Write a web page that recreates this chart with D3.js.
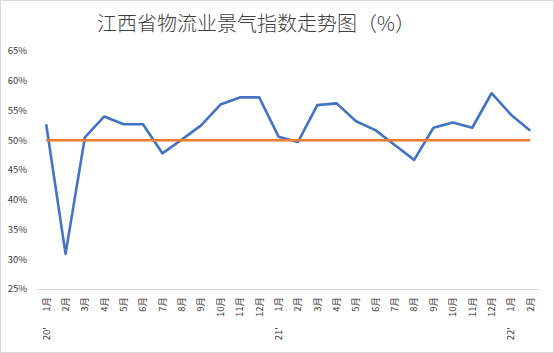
<!DOCTYPE html>
<html>
<head>
<meta charset="utf-8">
<script src="https://cdn.jsdelivr.net/npm/d3@7"></script>
<style>
  body { margin: 0; background: #fff; }
  svg { display: block; }
</style>
</head>
<body>
<div id="chart"></div>
<script>
// data
const months = ["1月","2月","3月","4月","5月","6月","7月","8月","9月","10月","11月","12月",
                "1月","2月","3月","4月","5月","6月","7月","8月","9月","10月","11月","12月",
                "1月","2月"];
const years = [{ idx: 0, label: "20'" }, { idx: 12, label: "21'" }, { idx: 24, label: "22'" }];
const index = [52.7, 30.9, 50.5, 54.0, 52.7, 52.7, 47.8, 50.1, 52.5, 56.0, 57.2, 57.2,
               50.6, 49.7, 55.9, 56.2, 53.2, 51.7, 49.2, 46.7, 52.1, 53.0, 52.1, 57.9,
               54.3, 51.6];
const baseline = months.map(() => 50);
const yTicks = [25, 30, 35, 40, 45, 50, 55, 60, 65];

function init() {
    const width = 554, height = 353;
    const font = "'Noto Sans CJK SC', 'DejaVu Sans', sans-serif";

    const svg = d3.select("#chart")
                  .append("svg")
                  .attr("width", width)
                  .attr("height", height);

    // outer frame
    svg.append("rect")
       .attr("x", 0.5).attr("y", 0.5)
       .attr("width", width - 1).attr("height", height - 1)
       .attr("fill", "#fff")
       .attr("stroke", "#d9d9d9");

    svg.append("text")
       .attr("x", 256).attr("y", 31)
       .attr("text-anchor", "middle")
       .style("font-family", font)
       .style("font-size", "20px")
       .style("font-weight", 300)
       .attr("fill", "#404040")
       .text("江西省物流业景气指数走势图（%）");

    const x = d3.scaleBand()
                .domain(d3.range(months.length))
                .range([36.5, 540]);
    const cx = i => x(i) + x.bandwidth() / 2;

    const y = d3.scaleLinear()
                .domain([25, 65])
                .range([289, 51]);

    // y tick labels
    svg.selectAll(".ylab")
       .data(yTicks)
       .join("text")
       .attr("x", 27)
       .attr("y", d => y(d))
       .attr("dy", "0.35em")
       .attr("text-anchor", "end")
       .style("font-family", font)
       .style("font-size", "9.5px")
       .attr("fill", "#404040")
       .text(d => d + "%");

    // x axis line
    svg.append("line")
       .attr("x1", 36.5).attr("x2", 540)
       .attr("y1", y(25) + 0.5).attr("y2", y(25) + 0.5)
       .attr("stroke", "#d9d9d9");

    // month labels, rotated
    svg.selectAll(".mlab")
       .data(months)
       .join("text")
       .attr("transform", (d, i) => `translate(${cx(i)},297) rotate(-90)`)
       .attr("dy", "0.35em")
       .attr("text-anchor", "end")
       .style("font-family", font)
       .style("font-size", "9.5px")
       .attr("fill", "#404040")
       .text(d => d);

    svg.selectAll(".ylab2")
       .data(years)
       .join("text")
       .attr("transform", d => `translate(${cx(d.idx)},327) rotate(-90)`)
       .attr("dy", "0.35em")
       .attr("text-anchor", "end")
       .style("font-family", font)
       .style("font-size", "9.5px")
       .attr("fill", "#404040")
       .text(d => d.label);

    const line = d3.line()
                   .x((d, i) => cx(i))
                   .y(d => y(d));

    svg.append("path")
       .datum(index)
       .attr("d", line)
       .attr("fill", "none")
       .attr("stroke", "#4472c4")
       .attr("stroke-width", 2.6)
       .attr("stroke-linejoin", "round");

    svg.append("path")
       .datum(baseline)
       .attr("d", line)
       .attr("fill", "none")
       .attr("stroke", "#ed7d31")
       .attr("stroke-width", 2.6);
}

window.onload = init;
</script>
</body>
</html>
